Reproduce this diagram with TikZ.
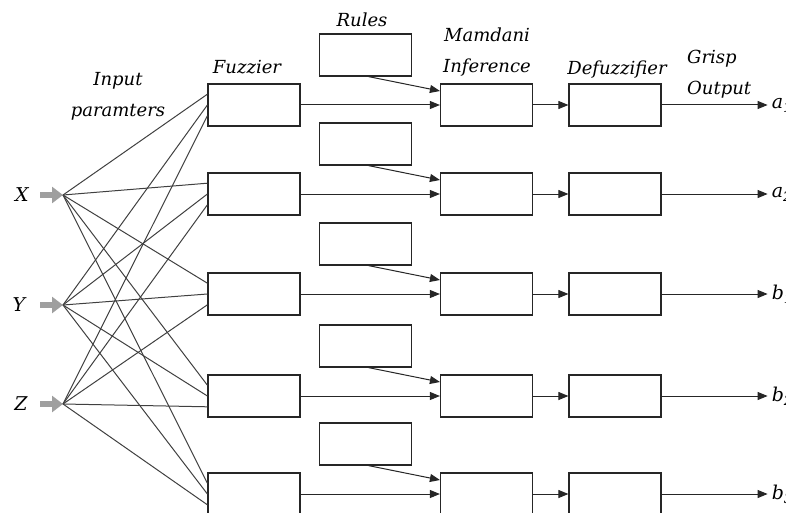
\documentclass[tikz,border=0pt]{standalone}
\usepackage{fontspec}
\setmainfont{DejaVu Serif}
\usetikzlibrary{positioning, arrows.meta, calc}

\begin{document}
\begin{tikzpicture}[
    x=1pt, y=-1pt,
    block/.style={draw=black!85, rectangle, line width=1.2pt, minimum width=92pt, minimum height=42pt, inner sep=0pt},
    caption/.style={align=center, font=\fontsize{18}{31}\selectfont\itshape, inner sep=0pt},
    varlabel/.style={font=\fontsize{19}{22}\selectfont\itshape, inner sep=0pt},
    fan/.style={draw=black!75, line width=1pt},
    flow/.style={draw=black!85, line width=1pt, -{Triangle[length=10pt, width=8pt]}},
    feed/.style={draw=gray!75, line width=6.5pt, -{Triangle[length=11pt, width=16pt]}}
]
    \useasboundingbox (0,0) rectangle (786,513);

    % ================= STAGE TITLES =================
    \node[caption] (tin) at (118, 96) {Input\\paramters};
    \node[caption] (tfuz) at (247, 67) {Fuzzier};
    \node[caption] (trul) at (362, 20) {Rules};
    \node[caption] (tmam) at (487, 52) {Mamdani\\Inference};
    \node[caption] (tdef) at (617, 70) {Defuzzifier};
    \node[caption, align=left, anchor=west] (tout) at (687, 74) {Grisp\\Output};

    % ================= BLOCKS =================
    \foreach \yc [count=\i] in {105,194,294,396,494} {
        \node[block] (F\i) at (254, \yc) {};
        \node[block] (R\i) at (365.5, \yc-50) {};
        \node[block] (M\i) at (486.5, \yc) {};
        \node[block] (D\i) at (615, \yc) {};
    }

    % ================= INPUTS =================
    \node[varlabel] (X) at (22, 195) {X};
    \node[varlabel] (Y) at (19, 305) {Y};
    \node[varlabel] (Z) at (21, 404) {Z};
    \coordinate (Xs) at (40, 195);  \coordinate (Xt) at (63, 195);
    \coordinate (Ys) at (40, 305);  \coordinate (Yt) at (63, 305);
    \coordinate (Zs) at (40, 404);  \coordinate (Zt) at (63, 404);
    \draw[feed] (Xs) -- (Xt);
    \draw[feed] (Ys) -- (Yt);
    \draw[feed] (Zs) -- (Zt);

    % every input feeds every fuzzier
    \foreach \src/\f in {Xt/0.25, Yt/0.5, Zt/0.75}
        \foreach \i in {1,...,5}
            \draw[fan] (\src) -- ($(F\i.north west)!\f!(F\i.south west)$);

    % ================= FLOW CONNECTIONS =================
    \foreach \i/\lab in {1/a\textsubscript{1}, 2/a\textsubscript{2}, 3/b\textsubscript{1}, 4/b\textsubscript{2}, 5/b\textsubscript{3}} {
        \draw[flow] (F\i.east) -- (M\i.west);
        \draw[flow] ([xshift=3pt]R\i.south) -- ([yshift=14pt]M\i.west);
        \draw[flow] (M\i.east) -- (D\i.west);
        \coordinate (O\i) at ($(D\i.east)+(106,0)$);
        \draw[flow] (D\i.east) -- (O\i);
        \node[varlabel, anchor=west] (L\i) at ([xshift=4pt]O\i) {\lab};
    }

\end{tikzpicture}
\end{document}
